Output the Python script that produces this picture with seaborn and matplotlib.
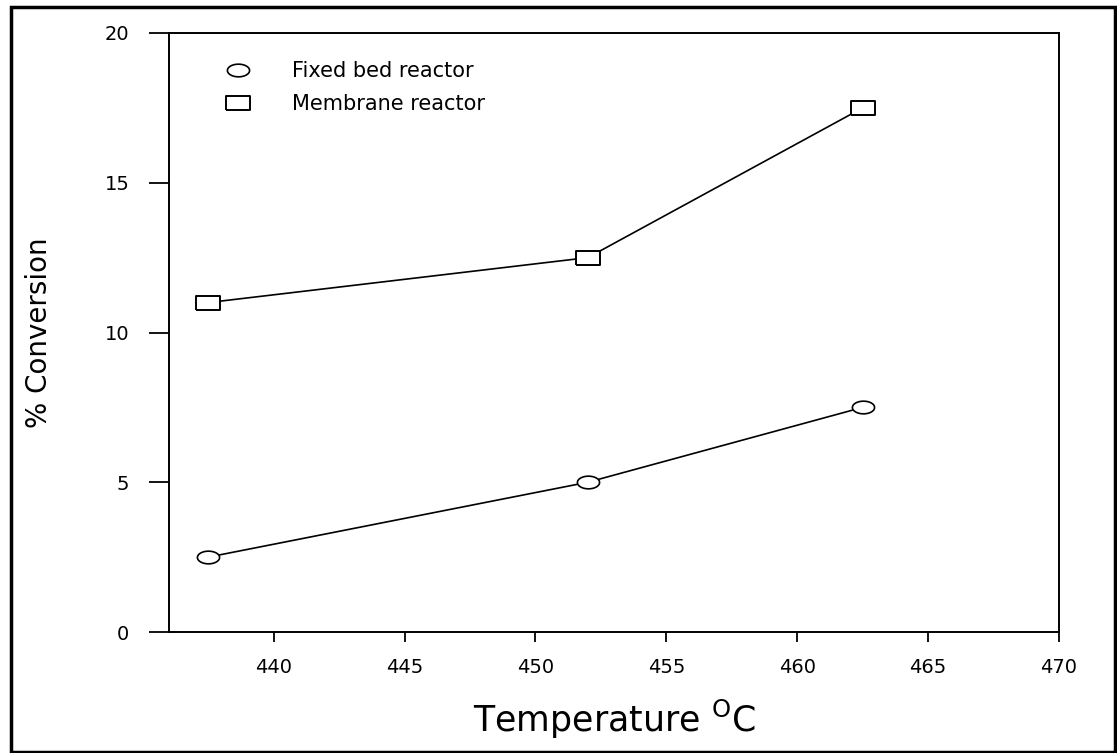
import numpy as np
import pandas as pd
import matplotlib
matplotlib.use("Agg")
import matplotlib.pyplot as plt
from matplotlib.lines import Line2D
from matplotlib.patches import Rectangle
import seaborn as sns

# Data
temperature = [437.5, 452.0, 462.5]
fixed_bed = [2.5, 5.0, 7.5]
membrane = [11.0, 12.5, 17.5]
series_names = ["Fixed bed reactor", "Membrane reactor"]
x_ticks = [440, 445, 450, 455, 460, 465, 470]
y_ticks = [0, 5, 10, 15, 20]

sns.set_style("ticks")
plt.rcParams['font.family'] = ['DejaVu Sans']
plt.rcParams['text.color'] = 'black'
plt.rcParams['axes.labelcolor'] = 'black'

fig = plt.figure(figsize=(11.17, 7.53), dpi=100)
ax = fig.add_axes([169/1117, 1-632/753, (1059-169)/1117, (632-33)/753])

t = np.linspace(0, 2*np.pi, 41)
ellipse_marker = list(zip(np.cos(t), 0.57*np.sin(t)))
rect_marker = [(-1, -0.6), (1, -0.6), (1, 0.6), (-1, 0.6), (-1, -0.6)]

df_fixed = pd.DataFrame({"T": temperature, "conv": fixed_bed})
df_mem = pd.DataFrame({"T": temperature, "conv": membrane})

sns.lineplot(data=df_fixed, x="T", y="conv", ax=ax, color="black", lw=1.2,
             marker=ellipse_marker, markersize=16, markerfacecolor="white",
             markeredgecolor="black", markeredgewidth=1.2)
sns.lineplot(data=df_mem, x="T", y="conv", ax=ax, color="black", lw=1.2,
             marker=rect_marker, markersize=17.5, markerfacecolor="white",
             markeredgecolor="black", markeredgewidth=1.4)

ax.set_xlim(436, 470)
ax.set_ylim(0, 20)
ax.set_xticks(x_ticks)
ax.set_yticks(y_ticks)
ax.tick_params(axis='x', direction='out', length=7.5, width=1.3, pad=11, labelsize=14, colors='black')
ax.tick_params(axis='y', direction='out', length=14.5, width=1.3, pad=14, labelsize=14, colors='black')
for s in ax.spines.values():
    s.set_visible(True)
    s.set_linewidth(1.4)
    s.set_color("black")

ax.set_xlabel("Temperature $^{\\mathrm{O}}$C", fontsize=25, labelpad=15)
ax.set_ylabel("% Conversion", fontsize=20, labelpad=37)

handles = [
    Line2D([], [], linestyle='none', marker=ellipse_marker, markersize=16,
           markerfacecolor='white', markeredgecolor='black', markeredgewidth=1.2),
    Line2D([], [], linestyle='none', marker=rect_marker, markersize=17.5,
           markerfacecolor='white', markeredgecolor='black', markeredgewidth=1.4),
]
leg = ax.legend(handles, series_names, loc='upper left', frameon=False,
                fontsize=15, bbox_to_anchor=(0.045, 0.967), handletextpad=1.6,
                labelspacing=0.62, borderaxespad=0)
for txt in leg.get_texts():
    txt.set_color('black')

fig.patches.append(Rectangle((11/1117, 1/753), (1115-11)/1117, (745)/753,
                             transform=fig.transFigure, fill=False,
                             edgecolor='black', linewidth=2.5))

fig.savefig("out.png", dpi=100)
